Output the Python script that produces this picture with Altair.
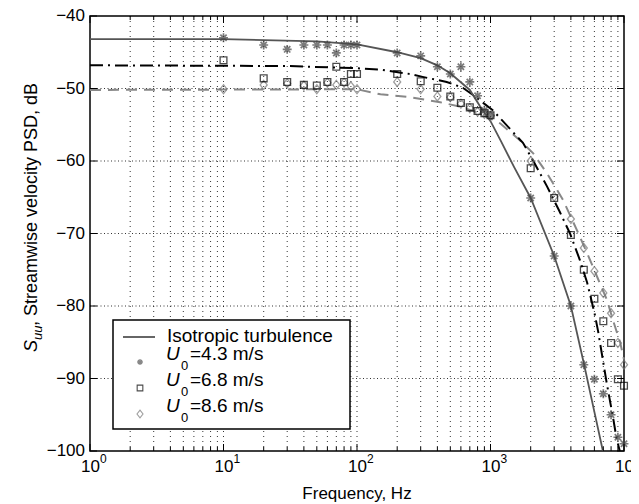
import altair as alt
import pandas as pd

FONT = "Liberation Sans"
W, H = 534, 435

# ---------------- data ----------------
f_pts = [10, 20, 30, 40, 50, 60, 70, 80, 90, 100,
         200, 300, 400, 500, 600, 700, 800, 900, 1000,
         2000, 3000, 4000, 5000, 6000, 7000, 8000, 9000, 10000]
u43 = [-43.0, -44.0, -44.6, -44.0, -44.0, -44.0, -45.1, -44.0, -44.0, -44.0,
       -45.1, -45.5, -47.0, -48.0, -47.0, -49.1, -51.0, -53.0, -53.7,
       -65.1, -73.1, -80.0, -88.1, -90.1, -92.1, -95.0, -98.1, -99.0]
u68 = [-46.1, -48.6, -49.1, -49.5, -49.6, -49.1, -47.0, -49.1, -48.0, -48.0,
       -48.0, -49.0, -49.9, -51.1, -52.0, -52.6, -53.1, -53.4, -53.7,
       -61.0, -65.1, -70.2, -75.0, -79.0, -82.1, -85.1, -90.1, -91.0]
u86 = [-50.1, -49.5, -49.3, -49.6, -50.1, -49.2, -49.5, -49.2, -49.7, -50.1,
       -49.1, -50.1, -51.1, -51.2, -52.1, -52.7, -53.2, -53.5, -53.8,
       -60.0, -64.9, -68.0, -72.0, -75.2, -78.2, -81.0, -85.1, -88.1]

f_iso = [1, 10, 50, 100, 200, 300, 400, 500, 700, 850, 1000, 1200, 1500,
         2000, 3000, 4000, 5000, 6000, 6950]
v_iso = [-43.2, -43.2, -43.5, -43.9, -45.0, -45.8, -46.8, -47.9, -50.2, -52.7,
         -54.5, -57.3, -60.8, -65.1, -73.1, -80.0, -87.9, -94.6, -100.0]

f_fit68 = [1, 30, 100, 150, 250, 310, 470, 620, 740, 1040, 1750, 2080, 2650,
           3300, 3940, 4680, 5300, 6000, 6400, 7400, 8300, 8800, 9300]
v_fit68 = [-46.8, -46.9, -47.2, -47.4, -48.0, -48.4, -49.1, -49.9, -50.9, -53.0,
           -57.5, -59.9, -63.5, -67.0, -70.0, -73.7, -76.8, -80.9, -83.5, -90.5,
           -95.5, -98.3, -100.0]

f_fit86 = [1, 100, 150, 250, 420, 590, 830, 1180, 1650, 2080, 2650, 3500,
           4430, 5290, 6300, 7470, 8250, 9380, 10000]
v_fit86 = [-50.2, -50.1, -50.8, -51.2, -51.9, -52.5, -53.4, -54.8, -57.1, -58.9,
           -61.7, -65.4, -69.5, -72.7, -76.0, -79.2, -81.9, -85.1, -87.4]

x_major = [1, 10, 100, 1000, 10000]
x_exp = ["0", "1", "2", "3", "4"]
x_minor = [2, 3, 4, 5, 6, 7, 8, 9,
           20, 30, 40, 50, 60, 70, 80, 90,
           200, 300, 400, 500, 600, 700, 800, 900,
           2000, 3000, 4000, 5000, 6000, 7000, 8000, 9000]
x_grid = [2, 3, 4, 5, 6, 7, 8, 9, 10,
          20, 30, 40, 50, 60, 70, 80, 90, 100,
          200, 300, 400, 500, 600, 700, 800, 900, 1000,
          2000, 3000, 4000, 5000, 6000, 7000, 8000, 9000]
y_ticks = [-100, -90, -80, -70, -60, -50, -40]
y_labels = ["\u2212100", "\u221290", "\u221280", "\u221270", "\u221260", "\u221250", "\u221240"]
y_grid = [-90, -80, -70, -60, -50]

legend_iso = "Isotropic turbulence"
legend_u = ["=4.3 m/s", "=6.8 m/s", "=8.6 m/s"]
x_title = "Frequency, Hz"
y_title_rest = ", Streamwise velocity PSD, dB"

# ---------------- scales ----------------
xs = alt.Scale(type="log", domain=[1, 10000], nice=False)
ys = alt.Scale(domain=[-100, -40], nice=False, zero=False)

ASTER = "M0,-1L0,1M-1,0L1,0M-0.7,-0.7L0.7,0.7M-0.7,0.7L0.7,-0.7"
DIAM = "M0,-1L0.78,0L0,1L-0.78,0Z"

pts = pd.DataFrame({"f": f_pts, "u43": u43, "u68": u68, "u86": u86})
iso = pd.DataFrame({"f": f_iso, "v": v_iso})
fit68 = pd.DataFrame({"f": f_fit68, "v": v_fit68})
fit86 = pd.DataFrame({"f": f_fit86, "v": v_fit86})
maj = pd.DataFrame({"f": x_major, "e": x_exp})
mnr = pd.DataFrame({"f": x_minor})
xg = pd.DataFrame({"f": x_grid})
yt = pd.DataFrame({"v": y_ticks, "lab": y_labels})
yg = pd.DataFrame({"v": y_grid})
one = pd.DataFrame({"a": [0]})


def X():
    return alt.X("f:Q", scale=xs, axis=None)


def Y(field):
    return alt.Y(field, scale=ys, axis=None)


# dotted grid
g_x = alt.Chart(xg).mark_rule(color="#000000", opacity=0.8, strokeWidth=1, strokeDash=[1, 4]).encode(
    x=X(), y=alt.value(0), y2=alt.value(H))
g_y = alt.Chart(yg).mark_rule(color="#000000", opacity=0.8, strokeWidth=1, strokeDash=[1, 2.5]).encode(
    y=Y("v:Q"), x=alt.value(0), x2=alt.value(W))

l_iso = alt.Chart(iso).mark_line(color="#555555", strokeWidth=1.8).encode(
    x=X(), y=Y("v:Q"), order="f:Q")
l_68 = alt.Chart(fit68).mark_line(color="#000000", strokeWidth=2, strokeDash=[13, 5, 2, 5]).encode(
    x=X(), y=Y("v:Q"), order="f:Q")
l_86 = alt.Chart(fit86).mark_line(color="#888888", strokeWidth=2, strokeDash=[11, 7]).encode(
    x=X(), y=Y("v:Q"), order="f:Q")

p43 = alt.Chart(pts).mark_point(shape=ASTER, size=80, filled=False, color="#444444", strokeWidth=1.7).encode(
    x=X(), y=Y("u43:Q"))
p68 = alt.Chart(pts).mark_point(shape="square", size=46, filled=False, color="#000000", strokeWidth=1.3).encode(
    x=X(), y=Y("u68:Q"))
p86 = alt.Chart(pts).mark_point(shape=DIAM, size=81, filled=False, color="#777777", strokeWidth=1.3).encode(
    x=X(), y=Y("u86:Q"))

# inward ticks
tb_maj = alt.Chart(maj).mark_rule(color="black").encode(x=X(), y=alt.value(H), y2=alt.value(H - 7))
tt_maj = alt.Chart(maj).mark_rule(color="black").encode(x=X(), y=alt.value(0), y2=alt.value(7))
tb_min = alt.Chart(mnr).mark_rule(color="black").encode(x=X(), y=alt.value(H), y2=alt.value(H - 4))
tt_min = alt.Chart(mnr).mark_rule(color="black").encode(x=X(), y=alt.value(0), y2=alt.value(4))
yl = alt.Chart(yt).mark_rule(color="black").encode(y=Y("v:Q"), x=alt.value(0), x2=alt.value(7))
yr = alt.Chart(yt).mark_rule(color="black").encode(y=Y("v:Q"), x=alt.value(W), x2=alt.value(W - 7))

# tick labels
xl_base = alt.Chart(maj).mark_text(text="10", font=FONT, fontSize=17, align="right",
                                   baseline="alphabetic", dx=10, color="black").encode(
    x=X(), y=alt.value(H + 21))
xl_exp = alt.Chart(maj).mark_text(font=FONT, fontSize=12, align="left",
                                  baseline="alphabetic", dx=10, color="black").encode(
    x=X(), y=alt.value(H + 12), text="e:N")
y_lab = alt.Chart(yt).mark_text(font=FONT, fontSize=17, align="right", baseline="middle",
                                color="black").encode(
    y=Y("v:Q"), x=alt.value(-5), text="lab:N")


def txt(s, x, y, size=19, italic=False, angle=0, align="left"):
    return alt.Chart(one).mark_text(
        text=s, font=FONT, fontSize=size, fontStyle="italic" if italic else "normal",
        angle=angle, align=align, baseline="alphabetic", color="black"
    ).encode(x=alt.value(x), y=alt.value(y))


# legend
leg_box = alt.Chart(one).mark_rect(fill="white", stroke="black", strokeWidth=1.5).encode(
    x=alt.value(23), x2=alt.value(260), y=alt.value(304), y2=alt.value(413))
leg_line = alt.Chart(one).mark_rule(color="#555555", strokeWidth=1.8).encode(
    x=alt.value(33), x2=alt.value(65), y=alt.value(321))
leg_a = alt.Chart(one).mark_point(shape=ASTER, size=34, filled=False, color="#555555", strokeWidth=1.3).encode(
    x=alt.value(50), y=alt.value(346))
leg_s = alt.Chart(one).mark_point(shape="square", size=32, filled=False, color="#000000", strokeWidth=1.1).encode(
    x=alt.value(50), y=alt.value(372))
leg_d = alt.Chart(one).mark_point(shape=DIAM, size=60, filled=False, color="#777777", strokeWidth=1.1).encode(
    x=alt.value(50), y=alt.value(398))

leg_texts = [txt(legend_iso, 77, 326)]
for base, lab in zip([344, 370, 396], legend_u):
    leg_texts += [txt("U", 76, base, italic=True),
                  txt("0", 91, base + 10, size=13),
                  txt(lab, 100, base)]

# axis titles
titles = [
    txt(x_title, W / 2, H + 48, size=17, align="center"),
    txt("S", -53, 336, size=18, italic=True, angle=270),
    txt("uu", -48, 324, size=13, italic=True, angle=270),
    txt(y_title_rest, -53, 310, size=18, angle=270),
]

chart = alt.layer(
    g_x, g_y, l_86, l_68, l_iso, p86, p68, p43,
    tb_maj, tt_maj, tb_min, tt_min, yl, yr, xl_base, xl_exp, y_lab,
    leg_box, leg_line, leg_a, leg_s, leg_d, *leg_texts, *titles
).properties(
    width=W, height=H,
    autosize=alt.AutoSizeParams(type="none"),
    padding={"left": 82, "top": 8, "right": 7, "bottom": 51},
).configure_view(stroke="black", strokeWidth=1.5)

chart.save("out.html", embed_options={"renderer": "svg", "actions": False})
